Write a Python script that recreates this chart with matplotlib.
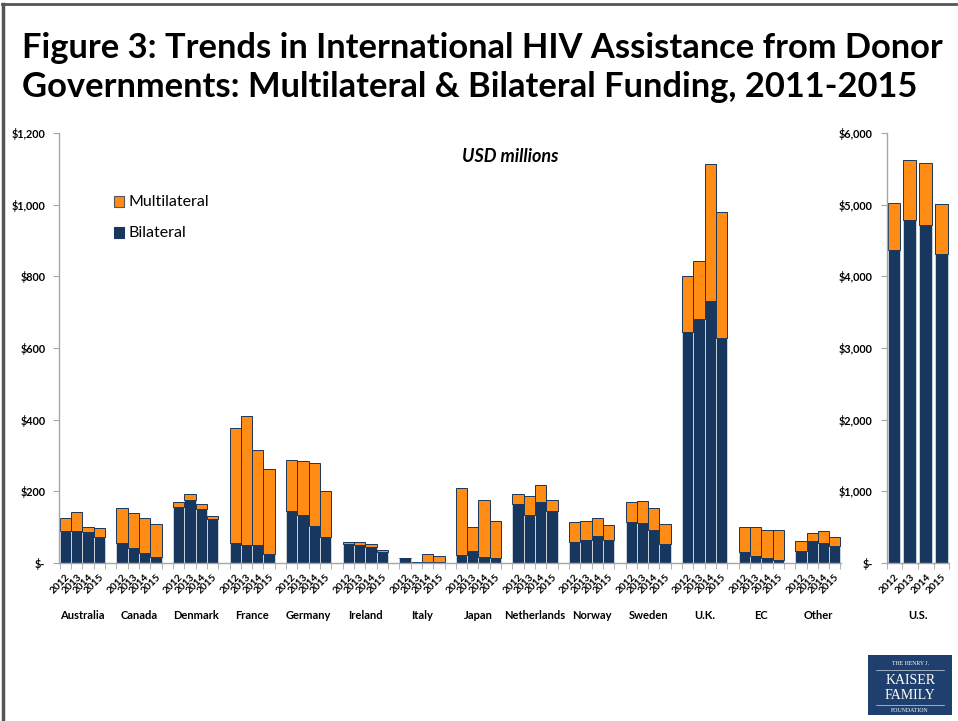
import matplotlib
matplotlib.use("Agg")
import matplotlib.pyplot as plt
from matplotlib.lines import Line2D
from matplotlib.patches import Rectangle
import numpy as np

plt.rcParams['font.family'] = ['Lato', 'DejaVu Sans']

# funding by donor, USD millions, 2012-2015
years = ['2012', '2013', '2014', '2015']
donors = ['Australia', 'Canada', 'Denmark', 'France', 'Germany', 'Ireland', 'Italy',
          'Japan', 'Netherlands', 'Norway', 'Sweden', 'U.K.', 'EC', 'Other']
bilateral = [
    [89, 89, 86, 73], [55, 43, 28, 17], [156, 177, 151, 123], [56, 50, 50, 26],
    [146, 134, 104, 73], [54, 50, 46, 30], [14, 3, 3, 2], [22, 33, 18, 14],
    [166, 134, 169, 145], [60, 63, 75, 64], [114, 113, 92, 53], [644, 681, 732, 628],
    [31, 21, 13, 8], [33, 61, 57, 47],
]
multilateral = [
    [36, 54, 14, 26], [98, 98, 97, 93], [15, 15, 15, 7], [321, 360, 266, 237],
    [141, 152, 175, 128], [6, 10, 7, 6], [0, 0, 22, 18], [187, 68, 158, 104],
    [28, 52, 50, 30], [55, 55, 50, 43], [57, 60, 62, 56], [157, 161, 382, 352],
    [70, 80, 78, 85], [28, 22, 31, 27],
]
us_bilateral = [4363, 4790, 4721, 4311]
us_multilateral = [660, 828, 856, 693]

navy = '#17375E'
orange = '#FF8C14'
grey = '#A6A6A6'

fig = plt.figure(figsize=(9.58, 7.21), dpi=100)

# frame lines on top and left
fig.add_artist(Line2D([0.002, 0.998], [0.994, 0.994], color='#555555', lw=2))
fig.add_artist(Line2D([0.003, 0.003], [0.0, 0.994], color='#555555', lw=2.5))

fig.text(0.023, 0.934, 'Figure 3: Trends in International HIV Assistance from Donor',
         fontsize=24.8, fontweight='bold', va='center', ha='left')
fig.text(0.023, 0.879, 'Governments: Multilateral & Bilateral Funding, 2011-2015',
         fontsize=24.8, fontweight='bold', va='center', ha='left')


def style_axis(ax, ymax, step, labels):
    ax.set_ylim(0, ymax)
    ax.set_yticks(np.arange(0, ymax + 1, step))
    ax.set_yticklabels(labels, fontsize=7.8, fontweight='bold')
    for s in ['top', 'right']:
        ax.spines[s].set_visible(False)
    for s in ['left', 'bottom']:
        ax.spines[s].set_color(grey)
        ax.spines[s].set_linewidth(1)
    ax.tick_params(axis='y', length=4, color=grey, pad=6)
    ax.tick_params(axis='x', which='major', length=0, pad=6.5)
    ax.tick_params(axis='x', which='minor', length=4, color=grey)


# main panel
ax = fig.add_axes([0.0619, 0.2191, 0.8160, 0.5964])
xpos, xlab = [], []
for i, d in enumerate(donors):
    x = i * 5 + np.arange(4)
    ax.bar(x, bilateral[i], width=1, color=navy, edgecolor='#C9D1DA', lw=0.7)
    ax.bar(x, multilateral[i], bottom=bilateral[i], width=1, color=orange,
           edgecolor=navy, lw=0.7)
    xpos += list(x)
    xlab += years
    ax.text(i * 5 + 1.5, -0.123, d, transform=ax.get_xaxis_transform(),
            ha='center', va='center', fontsize=8, fontweight='bold')
ax.set_xlim(-0.55, 68.55)
ax.set_xticks(xpos)
ax.set_xticklabels(xlab, rotation=45, ha='right', va='top', rotation_mode='anchor',
                   fontsize=7.3, fontweight='bold')
ax.set_xticks([i * 5 + k - 0.5 for i in range(len(donors)) for k in range(5)], minor=True)
style_axis(ax, 1200, 200, ['$-', '$200', '$400', '$600', '$800', '$1,000', '$1,200'])

ax.text(0.577, 0.945, 'USD millions', transform=ax.transAxes, ha='center', va='center',
        fontsize=13, fontweight='bold', style='italic')

# legend
ax.add_patch(Rectangle((0.0695, 0.827), 0.0128, 0.026, transform=ax.transAxes,
                       facecolor=orange, edgecolor='#555555', lw=0.8))
ax.add_patch(Rectangle((0.0695, 0.755), 0.0128, 0.026, transform=ax.transAxes,
                       facecolor=navy, edgecolor=navy, lw=0.8))
ax.text(0.089, 0.840, 'Multilateral', transform=ax.transAxes, va='center', fontsize=11.5)
ax.text(0.089, 0.768, 'Bilateral', transform=ax.transAxes, va='center', fontsize=11.5)

# U.S. panel on its own scale
ax2 = fig.add_axes([0.9256, 0.2191, 0.0650, 0.5964])
xu = np.arange(4)
ax2.bar(xu, us_bilateral, width=0.8, color=navy, edgecolor='#C9D1DA', lw=0.7)
ax2.bar(xu, us_multilateral, bottom=us_bilateral, width=0.8, color=orange,
        edgecolor=navy, lw=0.7)
ax2.set_xlim(-0.45, 3.45)
ax2.set_xticks(xu)
ax2.set_xticklabels(years, rotation=45, ha='right', va='top', rotation_mode='anchor',
                    fontsize=7.3, fontweight='bold')
ax2.set_xticks([-0.45, 0.5, 1.5, 2.5, 3.45], minor=True)
style_axis(ax2, 6000, 1000, ['$-', '$1,000', '$2,000', '$3,000', '$4,000', '$5,000', '$6,000'])
ax2.text(0.5, -0.123, 'U.S.', transform=ax2.transAxes, ha='center', va='center',
         fontsize=8, fontweight='bold')

# foundation logo
logo = fig.add_axes([0.906, 0.008, 0.088, 0.083])
logo.set_xlim(0, 1)
logo.set_ylim(0, 1)
logo.axis('off')
logo.add_patch(Rectangle((0, 0), 1, 1, facecolor='#1F3F6E', edgecolor='none'))
serif = ['Liberation Serif', 'DejaVu Serif']
logo.text(0.5, 0.86, 'THE HENRY J.', color='white', ha='center', va='center',
          fontsize=4.2, family=serif)
logo.plot([0.1, 0.9], [0.76, 0.76], color='white', lw=0.4)
logo.text(0.5, 0.58, 'KAISER', color='white', ha='center', va='center',
          fontsize=10, family=serif)
logo.text(0.5, 0.33, 'FAMILY', color='white', ha='center', va='center',
          fontsize=10, family=serif)
logo.plot([0.1, 0.9], [0.17, 0.17], color='white', lw=0.4)
logo.text(0.5, 0.08, 'FOUNDATION', color='white', ha='center', va='center',
          fontsize=4.2, family=serif)

fig.savefig('out.png', dpi=100)
